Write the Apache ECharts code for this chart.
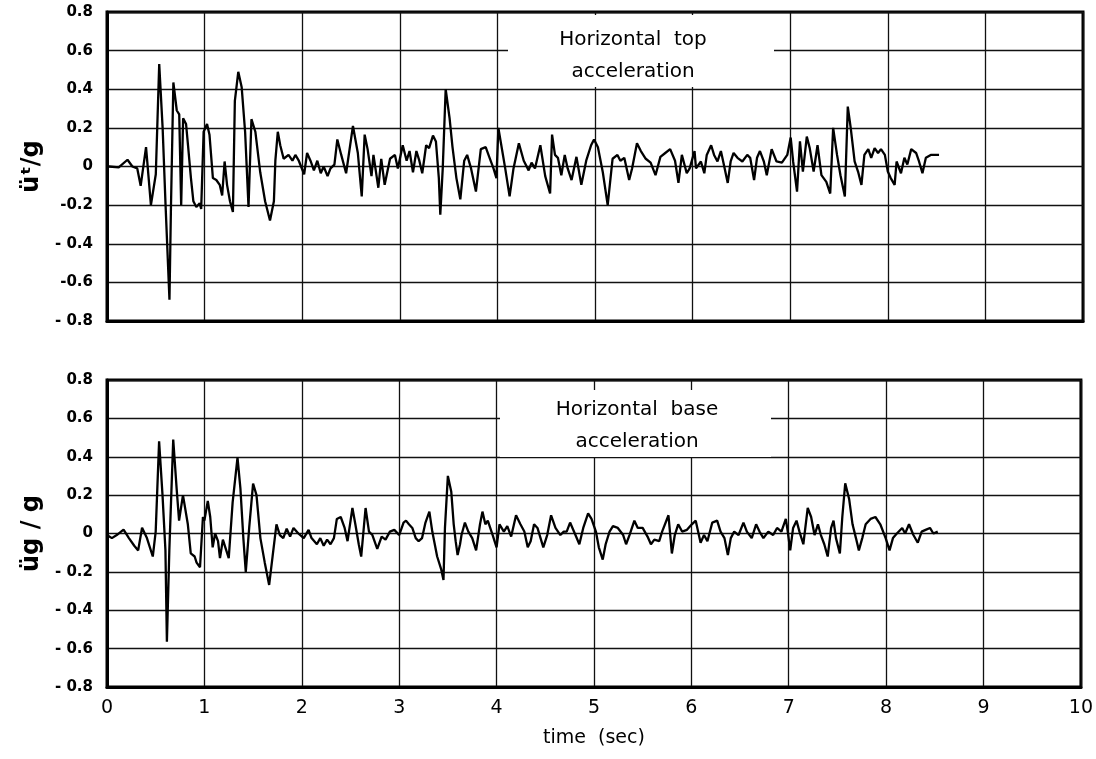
<!DOCTYPE html>
<html lang="en">
<head>
	<meta charset="UTF-8">
	<title>Horizontal top and base acceleration</title>
	<script src="https://cdn.jsdelivr.net/npm/echarts@6/dist/echarts.min.js"></script>
	<style type="text/css">
		html, body { margin: 0; padding: 0; background: #fff; }
		#main { width: 1096px; height: 759px; }
	</style>
</head>
<body>
	<div id="main"></div>
	<script type="text/javascript">
		// time (sec) and acceleration / g
		var topTime = [0.02, 0.12, 0.21, 0.26, 0.31, 0.345, 0.40, 0.45, 0.50, 0.535, 0.57, 0.60, 0.64, 0.655, 0.68, 0.715, 0.74, 0.76, 0.78, 0.81, 0.83, 0.86, 0.885, 0.915, 0.95, 0.965, 0.99, 1.025, 1.05, 1.085, 1.12, 1.155, 1.18, 1.205, 1.23, 1.26, 1.29, 1.31, 1.345, 1.38, 1.415, 1.45, 1.48, 1.52, 1.57, 1.62, 1.67, 1.71, 1.725, 1.75, 1.775, 1.81, 1.86, 1.90, 1.93, 1.965, 2.02, 2.05, 2.085, 2.12, 2.155, 2.19, 2.22, 2.26, 2.29, 2.33, 2.36, 2.40, 2.42, 2.45, 2.52, 2.57, 2.61, 2.64, 2.67, 2.71, 2.73, 2.78, 2.81, 2.845, 2.90, 2.95, 2.98,
			3.03, 3.07, 3.10, 3.135, 3.17, 3.20, 3.23, 3.27, 3.30, 3.34, 3.37, 3.40, 3.415, 3.44, 3.47, 3.51, 3.54, 3.58, 3.62, 3.66, 3.69, 3.73, 3.78, 3.83, 3.88, 3.92, 3.96, 3.99, 4.01, 4.05, 4.08, 4.125, 4.165, 4.22, 4.27, 4.32, 4.35, 4.385, 4.44, 4.49, 4.54, 4.56, 4.59, 4.62, 4.655, 4.69, 4.72, 4.76, 4.81, 4.86, 4.91, 4.96, 4.99, 5.03, 5.08, 5.13, 5.18, 5.23, 5.26, 5.30, 5.35, 5.38, 5.43, 5.47, 5.52, 5.57, 5.62, 5.67, 5.72, 5.77, 5.82, 5.855, 5.89, 5.94, 5.97, 6.02,
			6.035, 6.085, 6.12, 6.145, 6.19, 6.22, 6.255, 6.29, 6.32, 6.36, 6.39, 6.42, 6.46, 6.51, 6.56, 6.59, 6.63, 6.66, 6.69, 6.73, 6.76, 6.81, 6.86, 6.915, 6.97, 7.005, 7.03, 7.07, 7.10, 7.13, 7.17, 7.20, 7.24, 7.28, 7.32, 7.37, 7.41, 7.44, 7.48, 7.515, 7.56, 7.59, 7.62, 7.66, 7.695, 7.73, 7.76, 7.80, 7.83, 7.865, 7.90, 7.93, 7.97, 8.00, 8.03, 8.07, 8.09, 8.135, 8.17, 8.20, 8.24, 8.29, 8.32, 8.355, 8.39, 8.44, 8.525];
		var topAccel = [0.00, -0.005, 0.035, 0.00, -0.01, -0.10, 0.10, -0.20, -0.04, 0.53, 0.20, -0.20, -0.69, -0.22, 0.435, 0.29, 0.27, -0.20, 0.25, 0.22, 0.11, -0.06, -0.18, -0.21, -0.19, -0.22, 0.18, 0.22, 0.165, -0.06, -0.07, -0.095, -0.15, 0.026, -0.095, -0.18, -0.235, 0.34, 0.49, 0.41, 0.18, -0.21, 0.245, 0.18, -0.03, -0.18, -0.28, -0.18, 0.03, 0.18, 0.11, 0.04, 0.06, 0.03, 0.06, 0.03, -0.04, 0.07, 0.03, -0.02, 0.03, -0.035, 0.00, -0.05, -0.01, 0.01, 0.14, 0.06, 0.07, -0.035, 0.21, 0.07, -0.155, 0.165, 0.09, -0.05, 0.06, -0.11, 0.04, -0.095, 0.04, 0.06, -0.01,
			0.11, 0.03, 0.08, -0.03, 0.08, 0.03, -0.035, 0.11, 0.095, 0.16, 0.13, -0.06, -0.25, -0.01, 0.40, 0.25, 0.10, -0.06, -0.17, 0.03, 0.06, -0.01, -0.13, 0.09, 0.10, 0.045, -0.01, -0.06, 0.20, 0.08, -0.01, -0.155, -0.01, 0.12, 0.03, -0.02, 0.02, -0.01, 0.11, -0.05, -0.14, 0.165, 0.06, 0.045, -0.045, 0.06, -0.01, -0.07, 0.05, -0.095, 0.03, 0.11, 0.14, 0.10, -0.03, -0.20, 0.04, 0.06, 0.03, 0.045, -0.07, -0.01, 0.12, 0.08, 0.04, 0.02, -0.045, 0.05, 0.07, 0.09, 0.03, -0.085, 0.06, -0.035, -0.01, 0.08,
			-0.01, 0.026, -0.035, 0.06, 0.11, 0.06, 0.026, 0.08, 0.01, -0.085, 0.026, 0.07, 0.045, 0.026, 0.06, 0.045, -0.07, 0.045, 0.08, 0.026, -0.045, 0.09, 0.026, 0.02, 0.06, 0.15, 0.026, -0.13, 0.13, -0.026, 0.155, 0.095, -0.026, 0.11, -0.045, -0.08, -0.14, 0.20, 0.06, -0.045, -0.155, 0.31, 0.20, 0.026, -0.026, -0.095, 0.06, 0.09, 0.045, 0.095, 0.07, 0.09, 0.06, -0.026, -0.06, -0.095, 0.026, -0.035, 0.045, 0.01, 0.09, 0.07, 0.026, -0.035, 0.045, 0.06, 0.06];

		var baseTime = [0.00, 0.05, 0.10, 0.17, 0.225, 0.28, 0.32, 0.36, 0.41, 0.47, 0.50, 0.535, 0.57, 0.60, 0.615, 0.64, 0.68, 0.715, 0.74, 0.78, 0.83, 0.86, 0.90, 0.92, 0.955, 0.985, 1.00, 1.035, 1.06, 1.085, 1.11, 1.14, 1.16, 1.19, 1.215, 1.25, 1.29, 1.34, 1.37, 1.40, 1.425, 1.46, 1.50, 1.535, 1.575, 1.62, 1.665, 1.70, 1.74, 1.775, 1.81, 1.845, 1.88, 1.915, 1.965, 2.02, 2.07, 2.10, 2.155, 2.19, 2.225, 2.26, 2.295, 2.33, 2.36, 2.40, 2.44, 2.47, 2.52, 2.55, 2.585, 2.61, 2.655, 2.69, 2.725, 2.775, 2.82, 2.86, 2.905, 2.95, 3.00,
			3.045, 3.07, 3.10, 3.135, 3.17, 3.20, 3.235, 3.27, 3.31, 3.34, 3.39, 3.43, 3.455, 3.47, 3.50, 3.535, 3.56, 3.58, 3.60, 3.625, 3.64, 3.675, 3.71, 3.75, 3.79, 3.83, 3.855, 3.885, 3.91, 3.96, 4.00, 4.03, 4.075, 4.11, 4.15, 4.20, 4.245, 4.285, 4.32, 4.35, 4.385, 4.42, 4.48, 4.52, 4.56, 4.605, 4.655, 4.69, 4.72, 4.755, 4.81, 4.85, 4.89, 4.94, 4.975, 5.02, 5.05, 5.09, 5.12, 5.16, 5.195, 5.245, 5.30, 5.33, 5.365, 5.415, 5.45, 5.50, 5.55, 5.585, 5.62, 5.67, 5.70, 5.765, 5.80, 5.83, 5.865, 5.905, 5.955, 6.005,
			6.045, 6.095, 6.13, 6.165, 6.215, 6.265, 6.30, 6.34, 6.375, 6.405, 6.44, 6.485, 6.535, 6.57, 6.62, 6.665, 6.70, 6.74, 6.79, 6.84, 6.88, 6.925, 6.97, 6.99, 7.015, 7.045, 7.08, 7.11, 7.15, 7.195, 7.23, 7.265, 7.30, 7.33, 7.365, 7.40, 7.435, 7.46, 7.485, 7.525, 7.55, 7.58, 7.62, 7.655, 7.69, 7.72, 7.755, 7.79, 7.84, 7.89, 7.94, 7.995, 8.035, 8.07, 8.11, 8.165, 8.195, 8.235, 8.28, 8.325, 8.365, 8.405, 8.45, 8.485, 8.53];
		var baseAccel = [-0.008, -0.024, -0.008, 0.02, -0.024, -0.064, -0.088, 0.03, -0.024, -0.12, 0.01, 0.48, 0.20, -0.088, -0.564, -0.088, 0.49, 0.234, 0.067, 0.20, 0.048, -0.104, -0.12, -0.152, -0.176, 0.086, 0.067, 0.17, 0.086, -0.072, 0.0, -0.04, -0.128, -0.032, -0.072, -0.128, 0.162, 0.396, 0.234, -0.024, -0.20, 0.029, 0.26, 0.20, -0.024, -0.152, -0.268, -0.12, 0.048, -0.008, -0.024, 0.025, -0.016, 0.029, 0.0, -0.024, 0.019, -0.024, -0.056, -0.024, -0.064, -0.032, -0.056, -0.024, 0.076, 0.086, 0.029, -0.04, 0.133, 0.048, -0.056, -0.12, 0.133, 0.01, -0.008, -0.08, -0.016, -0.032, 0.01, 0.019, -0.008,
			0.057, 0.067, 0.048, 0.029, -0.024, -0.04, -0.024, 0.057, 0.114, 0.01, -0.12, -0.184, -0.242, 0.029, 0.30, 0.217, 0.048, -0.04, -0.112, -0.056, -0.008, 0.057, 0.01, -0.024, -0.088, 0.048, 0.114, 0.048, 0.067, -0.008, -0.072, 0.048, 0.01, 0.038, -0.016, 0.095, 0.048, 0.01, -0.072, -0.04, 0.048, 0.029, -0.072, -0.008, 0.095, 0.029, -0.008, 0.01, 0.01, 0.057, -0.008, -0.056, 0.029, 0.105, 0.076, 0.01, -0.072, -0.136, -0.056, 0.01, 0.038, 0.029, -0.008, -0.056, -0.008, 0.067, 0.029, 0.029, -0.016, -0.056, -0.032, -0.04, 0.01, 0.095, -0.104, -0.008, 0.048, 0.01, 0.019, 0.048,
			0.067, -0.048, -0.008, -0.04, 0.057, 0.067, 0.01, -0.024, -0.112, -0.024, 0.01, -0.008, 0.057, 0.01, -0.024, 0.048, 0.01, -0.024, 0.01, -0.008, 0.029, 0.01, 0.076, 0.01, -0.088, 0.029, 0.067, 0.01, -0.056, 0.133, 0.086, -0.008, 0.048, -0.008, -0.056, -0.12, 0.029, 0.067, -0.024, -0.104, 0.086, 0.262, 0.18, 0.048, -0.024, -0.088, -0.024, 0.048, 0.076, 0.086, 0.048, -0.024, -0.088, -0.024, 0.0, 0.029, 0.0, 0.048, -0.008, -0.048, 0.01, 0.019, 0.029, 0.0, 0.01];

		var xTickLabels = ['0', '1', '2', '3', '4', '5', '6', '7', '8', '9', '10'];
		var topYLabels = ['- 0.8', '-0.6', '- 0.4', '-0.2', '0', '0.2', '0.4', '0.6', '0.8'];
		var baseYLabels = ['- 0.8', '- 0.6', '- 0.4', '- 0.2', '0', '0.2', '0.4', '0.6', '0.8'];

		function pairs(xs, ys) {
			var out = [];
			for (var i = 0; i < xs.length; i++) out.push([xs[i], ys[i]]);
			return out;
		}

		var gridLine = { show: true, lineStyle: { color: '#111', width: 1.3 } };

		function xAxisFor(idx, showLabels) {
			return {
				type: 'value', gridIndex: idx, min: 0, max: 10, interval: 1,
				axisLine: { show: true, onZero: false, lineStyle: { color: '#000', width: 3 } },
				axisTick: { show: false },
				splitLine: gridLine,
				axisLabel: {
					show: showLabels, margin: 12, color: '#000',
					fontFamily: 'DejaVu Sans', fontSize: 19,
					formatter: function (v) { return xTickLabels[Math.round(v)]; }
				},
				name: showLabels ? 'time  (sec)' : '',
				nameLocation: 'middle', nameGap: 42,
				nameTextStyle: { color: '#000', fontFamily: 'DejaVu Sans', fontSize: 19 }
			};
		}

		function yAxisFor(idx, labels, title) {
			return {
				type: 'value', gridIndex: idx, min: -0.8, max: 0.8, interval: 0.2,
				axisLine: { show: true, onZero: false, lineStyle: { color: '#000', width: 3 } },
				axisTick: { show: false },
				splitLine: gridLine,
				axisLabel: {
					margin: 14, color: '#000', fontFamily: 'DejaVu Sans',
					fontWeight: 'bold', fontSize: 15,
					formatter: function (v) { return labels[Math.round((v + 0.8) / 0.2)]; }
				},
				name: title, nameLocation: 'middle', nameRotate: 90, nameGap: 60,
				nameTextStyle: { color: '#000', fontFamily: 'DejaVu Sans', fontWeight: 'bold', fontSize: 24 }
			};
		}

		var chart = echarts.init(document.getElementById('main'), null, { renderer: 'canvas' });

		var option = {
			backgroundColor: '#fff',
			animation: false,
			grid: [
				{ left: 107, top: 12, width: 976, height: 309, show: true, borderColor: '#000', borderWidth: 3 },
				{ left: 107, top: 380, width: 976, height: 307, show: true, borderColor: '#000', borderWidth: 3 }
			],
			xAxis: [xAxisFor(0, false), xAxisFor(1, true)],
			yAxis: [yAxisFor(0, topYLabels, 'üᵗ/g'), yAxisFor(1, baseYLabels, 'üg / g')],
			graphic: [
				{ type: 'rect', z: 50, shape: { x: 508, y: 15, width: 266, height: 72 }, style: { fill: '#fff' } },
				{ type: 'text', z: 51, x: 633, y: 40, style: { text: 'Horizontal  top', fill: '#000', font: '20px "DejaVu Sans"', align: 'center', verticalAlign: 'middle' } },
				{ type: 'text', z: 51, x: 633, y: 72, style: { text: 'acceleration', fill: '#000', font: '20px "DejaVu Sans"', align: 'center', verticalAlign: 'middle' } },
				{ type: 'rect', z: 50, shape: { x: 500, y: 390, width: 271, height: 67 }, style: { fill: '#fff' } },
				{ type: 'text', z: 51, x: 637, y: 410, style: { text: 'Horizontal  base', fill: '#000', font: '20px "DejaVu Sans"', align: 'center', verticalAlign: 'middle' } },
				{ type: 'text', z: 51, x: 637, y: 442, style: { text: 'acceleration', fill: '#000', font: '20px "DejaVu Sans"', align: 'center', verticalAlign: 'middle' } }
			],
			series: [
				{
					name: 'Horizontal top acceleration', type: 'line', xAxisIndex: 0, yAxisIndex: 0,
					data: pairs(topTime, topAccel), showSymbol: false, z: 60,
					lineStyle: { color: '#000', width: 2.3 }
				},
				{
					name: 'Horizontal base acceleration', type: 'line', xAxisIndex: 1, yAxisIndex: 1,
					data: pairs(baseTime, baseAccel), showSymbol: false, z: 60,
					lineStyle: { color: '#000', width: 2.3 }
				}
			]
		};

		chart.setOption(option);
	</script>
</body>
</html>
